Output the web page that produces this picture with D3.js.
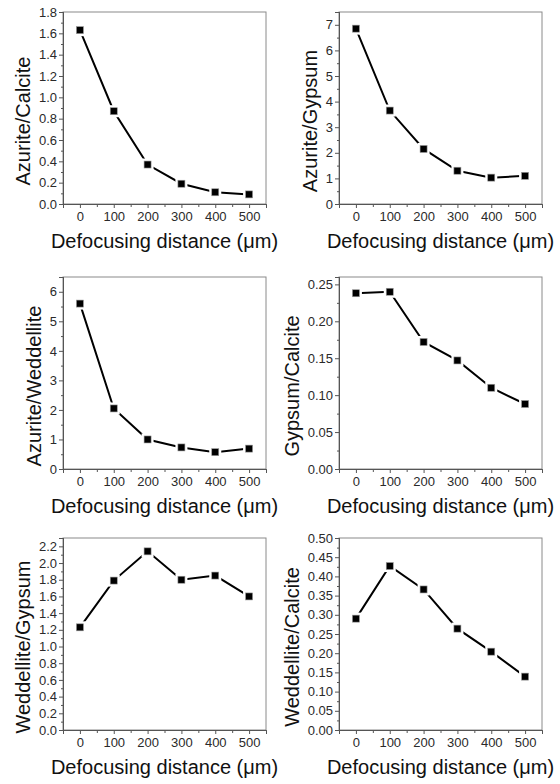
<!DOCTYPE html>
<html>
<head>
<meta charset="utf-8">
<script src="https://cdn.jsdelivr.net/npm/d3@7"></script>
<style>
  body { margin: 0; background: #fff; }
  svg { display: block; font-family: Arial, "Liberation Sans", sans-serif; }
</style>
</head>
<body>
<div id="chart"></div>
<script>
// data
var distances = [0, 100, 200, 300, 400, 500];
var xTickValues = [0, 100, 200, 300, 400, 500];

var azuriteCalcite    = [1.63, 0.87, 0.37, 0.19, 0.11, 0.09];
var azuriteGypsum     = [6.85, 3.65, 2.15, 1.30, 1.03, 1.10];
var azuriteWeddellite = [5.60, 2.05, 1.00, 0.73, 0.57, 0.69];
var gypsumCalcite     = [0.238, 0.240, 0.172, 0.147, 0.110, 0.088];
var weddelliteGypsum  = [1.23, 1.79, 2.14, 1.80, 1.85, 1.60];
var weddelliteCalcite = [0.290, 0.427, 0.366, 0.264, 0.204, 0.139];

var yLabels = ["Azurite/Calcite", "Azurite/Gypsum", "Azurite/Weddellite",
               "Gypsum/Calcite", "Weddellite/Gypsum", "Weddellite/Calcite"];
var yMaxes = [1.8, 7.5, 6.5, 0.26, 2.3, 0.5];
var yTickSteps = [0.2, 1, 1, 0.05, 0.2, 0.05];
var yDecimals = [1, 0, 0, 2, 1, 2];
var xLabel = "Defocusing distance (\u03bcm)";

var series = [azuriteCalcite, azuriteGypsum, azuriteWeddellite,
              gypsumCalcite, weddelliteGypsum, weddelliteCalcite];

var svgWidth = 560;
var svgHeight = 784;
var colLeft = [63, 339];
var rowTop = [12, 277, 538];
var plotW = 203;
var plotH = 192;

var svg = d3.select("#chart")
    .append("svg")
    .attr("width", svgWidth)
    .attr("height", svgHeight);

series.forEach(function (values, i) {
    var left = colLeft[i % 2];
    var top = rowTop[Math.floor(i / 2)];

    var g = svg.append("g")
        .attr("transform", `translate(${left}, ${top})`);

    var x = d3.scaleLinear().domain([-50, 550]).range([0, plotW]);
    var y = d3.scaleLinear().domain([0, yMaxes[i]]).range([plotH, 0]);

    var step = yTickSteps[i];
    var nMajor = Math.floor(yMaxes[i] / step + 1e-6);
    var yMajor = d3.range(0, nMajor + 1).map(k => +(k * step).toFixed(4));
    var yMinor = d3.range(0, nMajor + 1)
        .map(k => +((k + 0.5) * step).toFixed(4))
        .filter(v => v <= yMaxes[i]);
    var xMinor = d3.range(50, 500, 100);

    // frame
    g.append("rect")
        .attr("width", plotW)
        .attr("height", plotH)
        .attr("fill", "none")
        .attr("stroke", "#8a8a8a")
        .attr("stroke-width", 1);

    // minor ticks
    var minorLeft = d3.axisLeft(y).tickValues(yMinor).tickSize(2).tickFormat("");
    var minorBottom = d3.axisBottom(x).tickValues(xMinor).tickSize(3).tickFormat("");
    g.append("g").attr("class", "minor").call(minorLeft);
    g.append("g").attr("class", "minor")
        .attr("transform", `translate(0, ${plotH})`).call(minorBottom);

    // major axes
    var fmt = d3.format("." + yDecimals[i] + "f");
    var leftAxis = d3.axisLeft(y).tickValues(yMajor).tickSize(4).tickPadding(2).tickFormat(fmt);
    var bottomAxis = d3.axisBottom(x).tickValues(xTickValues).tickSize(4).tickPadding(4).tickFormat(d3.format("d"));

    var yAxisG = g.append("g").attr("class", "axis").call(leftAxis);
    g.append("g").attr("class", "axis")
        .attr("transform", `translate(0, ${plotH})`)
        .call(bottomAxis);

    g.selectAll(".axis path, .minor path").attr("stroke", "#555");
    g.selectAll(".axis line, .minor line").attr("stroke", "#555");
    g.selectAll(".axis text")
        .attr("font-size", "13px")
        .attr("font-family", "Arial, 'Liberation Sans', sans-serif")
        .attr("fill", "#2a2a2a");

    // y label placed just left of widest tick label
    var maxW = 0;
    yAxisG.selectAll("text").each(function () {
        maxW = Math.max(maxW, this.getBBox().width);
    });
    var labelX = -(4 + 2 + maxW + 9);
    g.append("text")
        .attr("transform", `translate(${labelX}, ${plotH / 2 + 13}) rotate(-90)`)
        .attr("text-anchor", "middle")
        .attr("font-size", "20px")
        .attr("fill", "#111")
        .text(yLabels[i]);

    g.append("text")
        .attr("x", plotW / 2)
        .attr("y", plotH + 44)
        .attr("text-anchor", "middle")
        .attr("font-size", "20px")
        .attr("fill", "#111")
        .text(xLabel);

    // line
    var line = d3.line()
        .x((d, k) => x(distances[k]))
        .y(d => y(d));

    g.append("path")
        .datum(values)
        .attr("d", line)
        .attr("fill", "none")
        .attr("stroke", "#000")
        .attr("stroke-width", 2);

    // markers with white halo
    g.selectAll(".halo")
        .data(values)
        .enter()
        .append("rect")
        .attr("class", "halo")
        .attr("x", (d, k) => x(distances[k]) - 6)
        .attr("y", d => y(d) - 6)
        .attr("width", 12)
        .attr("height", 12)
        .attr("fill", "#fff");

    g.selectAll(".mark")
        .data(values)
        .enter()
        .append("rect")
        .attr("class", "mark")
        .attr("x", (d, k) => x(distances[k]) - 3.5)
        .attr("y", d => y(d) - 3.5)
        .attr("width", 7)
        .attr("height", 7)
        .attr("fill", "#000")
        .attr("stroke", "#999")
        .attr("stroke-width", 0.6);
});
</script>
</body>
</html>
